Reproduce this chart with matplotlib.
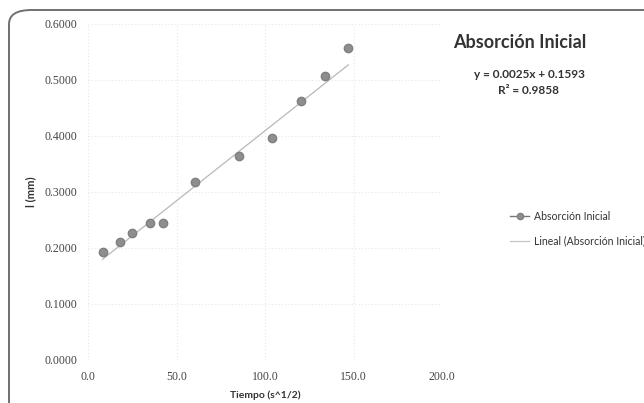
import matplotlib
matplotlib.use("Agg")
import matplotlib.pyplot as plt
from matplotlib.patches import FancyBboxPatch
from matplotlib.lines import Line2D

# Absorción inicial: tiempo (s^1/2) vs. l (mm)
tiempo = [8.2, 17.9, 24.6, 34.9, 42.4, 60.4, 85.1, 104.0, 120.2, 134.0, 147.1]
absorcion = [0.1934, 0.2100, 0.2270, 0.2450, 0.2450, 0.3180, 0.3640, 0.3970, 0.4630, 0.5070, 0.5580]

# Trend line coefficients (as reported on the chart)
pendiente = 0.0025
intercepto = 0.1593
r2 = 0.9858

x_ticks = [0, 50, 100, 150, 200]
y_ticks = [0.0, 0.1, 0.2, 0.3, 0.4, 0.5, 0.6]

fig = plt.figure(figsize=(6.44, 4.03), dpi=100)
fig.patch.set_facecolor("white")

# Chart-area frame with a rounded corner
frame = FancyBboxPatch((9 / 644, -0.2), 1.2, 1 - 10 / 403 + 0.2,
                       boxstyle="round,pad=0,rounding_size=0.035",
                       transform=fig.transFigure, facecolor="none",
                       edgecolor="#707070", linewidth=1.4, zorder=0)
fig.patches.append(frame)

ax = fig.add_axes([88 / 644, 1 - 360 / 403, (442 - 88) / 644, (360 - 24) / 403])
ax.set_xlim(0, 200)
ax.set_ylim(0, 0.6)
ax.set_xticks(x_ticks)
ax.set_yticks(y_ticks)
ax.set_xticklabels([f"{v:.1f}" for v in x_ticks])
ax.set_yticklabels([f"{v:.4f}" for v in y_ticks])

serif = "Liberation Serif"
for lbl in ax.get_xticklabels() + ax.get_yticklabels():
    lbl.set_fontfamily(serif)
    lbl.set_fontsize(8.5)
    lbl.set_color("#444444")
ax.tick_params(length=0, pad=8)

for s in ax.spines.values():
    s.set_visible(False)
ax.grid(True, color="#e6e6e6", linestyle=(0, (1, 2)), linewidth=0.8)
ax.set_axisbelow(True)

# Data points
ax.plot(tiempo, absorcion, linestyle="none", marker="o", markersize=6,
        color="#8e8e8e", markeredgecolor="#808080", zorder=3)

# Linear trend line
x0, x1 = min(tiempo), max(tiempo)
ax.plot([x0, x1], [pendiente * x0 + intercepto, pendiente * x1 + intercepto],
        color="#b8b8b8", linewidth=0.9, zorder=2)

ax.set_xlabel("Tiempo (s^1/2)", fontfamily="Lato", fontweight="bold",
              fontsize=7.5, color="#333333")
ax.xaxis.set_label_coords(0.5, -0.09)
ax.set_ylabel("l (mm)", fontfamily="Lato", fontweight="bold",
              fontsize=8, color="#333333")
ax.yaxis.set_label_coords(-0.145, 0.5)

# Title and equation
fig.text(520 / 644, 1 - 42 / 403, "Absorción Inicial", fontfamily="Lato",
         fontweight="bold", fontsize=13, color="#333333",
         ha="center", va="center")
fig.text(529 / 644, 1 - 74 / 403, f"y = {pendiente:.4f}x + {intercepto:.4f}",
         fontfamily="Lato", fontweight="bold", fontsize=8.5, color="#333333",
         ha="center", va="center")
fig.text(529 / 644, 1 - 91 / 403, f"R² = {r2:.4f}",
         fontfamily="Lato", fontweight="bold", fontsize=8.5, color="#333333",
         ha="center", va="center")

# Legend
handles = [
    Line2D([], [], color="#777777", linewidth=1.0, marker="o", markersize=4.5,
           markerfacecolor="#8e8e8e", markeredgecolor="#808080"),
    Line2D([], [], color="#c4c4c4", linewidth=0.9),
]
leg = fig.legend(handles, ["Absorción Inicial", "Lineal (Absorción Inicial)"],
                 loc="upper left", bbox_to_anchor=(510 / 644, 1 - 211 / 403),
                 frameon=False, handlelength=1.8, handletextpad=0.45,
                 labelspacing=1.3, borderaxespad=0, borderpad=0,
                 prop={"family": "Lato", "size": 7.6})
for t in leg.get_texts():
    t.set_color("#333333")

fig.savefig("out.png", dpi=100, facecolor="white")
